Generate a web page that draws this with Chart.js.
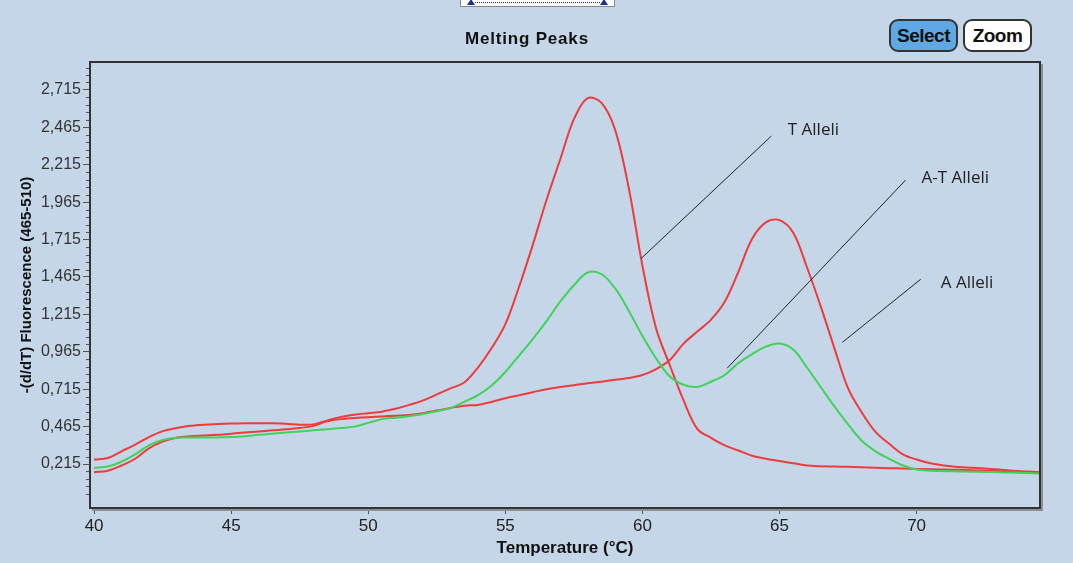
<!DOCTYPE html>
<html>
<head>
<meta charset="utf-8">
<script src="https://cdn.jsdelivr.net/npm/chart.js@4"></script>
<style>
  html, body { margin: 0; padding: 0; }
  body { width: 1073px; height: 563px; background: #c4d6e8; position: relative; overflow: hidden; font-family: "Liberation Sans", Arial, sans-serif; }
  #wrap { position: absolute; left: 0; top: 0; width: 1073px; height: 563px; }
  .title { position: absolute; left: 447px; top: 29px; width: 160px; text-align: center; font: bold 17px "Liberation Sans", Arial, sans-serif; letter-spacing: 0.8px; color: #111; }
  .btn { position: absolute; top: 19px; height: 33px; border: 2px solid #333; border-radius: 9px; box-sizing: border-box;
         font: bold 19px "Liberation Sans", Arial, sans-serif; color: #111; text-align: center; line-height: 30px; letter-spacing: -0.5px; }
  #sel { left: 889px; width: 69px; background: #5fa8e4; }
  #zoom { left: 963px; width: 69px; background: #fff; }
  .slider { position: absolute; left: 460px; top: -4px; width: 155px; height: 11px; background: #fff; border: 1px solid #888; box-sizing: border-box; }
  .slider .dots { position: absolute; left: 14px; right: 14px; top: 5px; border-top: 1px dotted #236; }
  .slider .tri { position: absolute; top: 2px; width: 0; height: 0; border-left: 4px solid transparent; border-right: 4px solid transparent; border-bottom: 6px solid #1b2c9c; }
</style>
</head>
<body>
<div id="wrap"><canvas id="chart" width="1073" height="563"></canvas></div>
<div class="slider"><div class="dots"></div><div class="tri" style="left:6px"></div><div class="tri" style="right:6px"></div></div>
<div class="title">Melting Peaks</div>
<div class="btn" id="sel">Select</div>
<div class="btn" id="zoom">Zoom</div>
<script>
// temperature grid (°C)
const temps = [40, 40.5, 41, 41.5, 42, 42.5, 43, 43.5, 44, 44.5,
  45, 45.5, 46, 46.5, 47, 47.5, 48, 48.5, 49, 49.5,
  50, 50.5, 51, 51.5, 52, 52.5, 53, 53.5, 54, 54.5,
  55, 55.5, 56, 56.5, 57, 57.5, 58, 58.5, 59, 59.5,
  60, 60.5, 61, 61.5, 62, 62.5, 63, 63.5, 64, 64.5,
  65, 65.5, 66, 66.5, 67, 67.5, 68, 68.5, 69, 69.5,
  70, 70.5, 71, 71.5, 72, 72.5, 73, 73.5, 74, 74.5];

// -(d/dT) fluorescence, T allele sample (red, peak ~58)
const tAllele = [0.245, 0.255, 0.30, 0.345, 0.395, 0.435, 0.455, 0.47, 0.478, 0.482,
  0.485, 0.487, 0.488, 0.487, 0.484, 0.478, 0.48, 0.505, 0.53, 0.545,
  0.555, 0.565, 0.585, 0.61, 0.64, 0.68, 0.72, 0.76, 0.86, 0.99,
  1.15, 1.40, 1.68, 1.98, 2.25, 2.52, 2.66, 2.63, 2.45, 2.06,
  1.54, 1.12, 0.875, 0.64, 0.45, 0.39, 0.34, 0.305, 0.27, 0.25,
  0.235, 0.22, 0.205, 0.2, 0.198, 0.196, 0.194, 0.19, 0.187, 0.185,
  0.182, 0.18, 0.178, 0.176, 0.174, 0.17, 0.166, 0.162, 0.158, 0.155];

// A allele sample (red, peak ~65)
const aAllele = [0.16, 0.17, 0.205, 0.25, 0.32, 0.365, 0.39, 0.40, 0.405, 0.41,
  0.418, 0.425, 0.432, 0.44, 0.447, 0.456, 0.47, 0.50, 0.515, 0.522,
  0.528, 0.533, 0.538, 0.543, 0.555, 0.572, 0.59, 0.605, 0.61, 0.63,
  0.655, 0.675, 0.695, 0.715, 0.73, 0.742, 0.755, 0.765, 0.778, 0.79,
  0.81, 0.85, 0.91, 1.02, 1.10, 1.18, 1.30, 1.50, 1.72, 1.83,
  1.845, 1.76, 1.53, 1.27, 0.99, 0.72, 0.56, 0.43, 0.35, 0.28,
  0.245, 0.22, 0.205, 0.195, 0.19, 0.185, 0.178, 0.17, 0.165, 0.16];

// A-T heterozygote (green, two peaks)
const atAllele = [0.19, 0.198, 0.23, 0.28, 0.34, 0.375, 0.39, 0.392, 0.392, 0.393,
  0.395, 0.40, 0.41, 0.418, 0.425, 0.432, 0.44, 0.447, 0.455, 0.465,
  0.49, 0.515, 0.525, 0.535, 0.55, 0.568, 0.59, 0.63, 0.675, 0.74,
  0.83, 0.94, 1.05, 1.17, 1.30, 1.41, 1.495, 1.485, 1.39, 1.24,
  1.07, 0.92, 0.80, 0.745, 0.73, 0.765, 0.81, 0.89, 0.95, 1.00,
  1.02, 0.98, 0.86, 0.73, 0.60, 0.48, 0.37, 0.30, 0.25, 0.205,
  0.178, 0.17, 0.167, 0.165, 0.164, 0.162, 0.16, 0.158, 0.155, 0.152];

const xTicks = [40, 45, 50, 55, 60, 65, 70];
const yTicks = [0.215, 0.465, 0.715, 0.965, 1.215, 1.465, 1.715, 1.965, 2.215, 2.465, 2.715];

// callout labels: text, label anchor, line start (on curve), line end
const calloutText = ['T Alleli', 'A-T Alleli', 'A Alleli'];
const calloutLabelAt = [[65.3, 2.447], [70.18, 2.127], [70.88, 1.425]];
const calloutLineFrom = [[59.96, 1.59], [63.09, 0.855], [67.29, 1.028]];
const calloutLineTo = [[64.7, 2.407], [69.6, 2.113], [70.15, 1.45]];

function toPoints(vals) {
  return temps.map((t, i) => ({ x: t, y: vals[i] }));
}

const redLine = '#ee3b3b';
const greenLine = '#3fd35a';

const framePlugin = {
  id: 'frame',
  afterDatasetsDraw(chart) {
    const ctx = chart.ctx;
    const a = chart.chartArea;
    const x = chart.scales.x, y = chart.scales.y;
    ctx.save();
    // minor ticks on y axis
    ctx.strokeStyle = '#555';
    ctx.lineWidth = 1;
    for (let v = 0.015; v < 2.9; v += 0.05) {
      const major = yTicks.some(t => Math.abs(t - v) < 0.001);
      if (major) continue;
      const py = Math.round(y.getPixelForValue(v)) + 0.5;
      if (py < a.top || py > a.bottom) continue;
      ctx.beginPath();
      ctx.moveTo(a.left - 4, py);
      ctx.lineTo(a.left, py);
      ctx.stroke();
    }
    // plot frame
    ctx.strokeStyle = '#333';
    ctx.lineWidth = 2;
    ctx.strokeRect(a.left, a.top, a.right - a.left, a.bottom - a.top);
    ctx.strokeStyle = '#8a8f96';
    ctx.lineWidth = 2;
    ctx.beginPath();
    ctx.moveTo(a.right + 2, a.top + 2);
    ctx.lineTo(a.right + 2, a.bottom + 2);
    ctx.lineTo(a.left + 2, a.bottom + 2);
    ctx.stroke();

    // callouts
    ctx.strokeStyle = '#222';
    ctx.lineWidth = 1;
    ctx.fillStyle = '#222';
    ctx.font = '17px "Open Sans", "Noto Sans", sans-serif';
    ctx.textBaseline = 'middle';
    ctx.textAlign = 'left';
    for (let i = 0; i < calloutText.length; i++) {
      ctx.beginPath();
      ctx.moveTo(x.getPixelForValue(calloutLineFrom[i][0]), y.getPixelForValue(calloutLineFrom[i][1]));
      ctx.lineTo(x.getPixelForValue(calloutLineTo[i][0]), y.getPixelForValue(calloutLineTo[i][1]));
      ctx.stroke();
      ctx.fillText(calloutText[i], x.getPixelForValue(calloutLabelAt[i][0]), y.getPixelForValue(calloutLabelAt[i][1]));
    }
    ctx.restore();
  }
};

new Chart(document.getElementById('chart'), {
  type: 'line',
  data: {
    datasets: [
      { label: 'A-T Alleli', data: toPoints(atAllele), borderColor: greenLine },
      { label: 'A Alleli', data: toPoints(aAllele), borderColor: redLine },
      { label: 'T Alleli', data: toPoints(tAllele), borderColor: redLine }
    ]
  },
  options: {
    responsive: false,
    animation: false,
    events: [],
    layout: { padding: { top: 62, right: 33, left: 0, bottom: 0 } },
    elements: {
      point: { radius: 0 },
      line: { borderWidth: 2, tension: 0.35, fill: false }
    },
    plugins: { legend: { display: false }, tooltip: { enabled: false }, title: { display: false } },
    scales: {
      x: {
        type: 'linear',
        min: 39.85,
        max: 74.5,
        afterBuildTicks(scale) { scale.ticks = xTicks.map(v => ({ value: v })); },
        afterFit(scale) { scale.height = 55; },
        grid: { drawOnChartArea: false, drawTicks: true, tickLength: 6, color: '#555' },
        border: { display: false },
        ticks: {
          padding: 2,
          color: '#222',
          font: { family: '"Liberation Sans", Arial, sans-serif', size: 17 },
          maxRotation: 0,
          callback: v => String(v)
        },
        title: {
          display: true,
          text: 'Temperature (°C)',
          color: '#111',
          font: { family: '"Liberation Sans", Arial, sans-serif', size: 17, weight: 'bold' },
          padding: { top: 0, bottom: 4 }
        }
      },
      y: {
        type: 'linear',
        min: -0.079,
        max: 2.902,
        afterBuildTicks(scale) { scale.ticks = yTicks.map(v => ({ value: v })); },
        afterFit(scale) { scale.width = 90; },
        grid: { drawOnChartArea: false, drawTicks: true, tickLength: 7, color: '#555' },
        border: { display: false },
        ticks: {
          padding: 2,
          color: '#333',
          font: { family: '"Liberation Sans", Arial, sans-serif', size: 16 },
          callback: v => v.toFixed(3).replace('.', ',')
        },
        title: {
          display: true,
          text: '-(d/dT) Fluorescence (465-510)',
          color: '#111',
          font: { family: '"Liberation Sans", Arial, sans-serif', size: 15, weight: 'bold' },
          padding: { top: 18, bottom: 0 }
        }
      }
    }
  },
  plugins: [framePlugin]
});
</script>
</body>
</html>
